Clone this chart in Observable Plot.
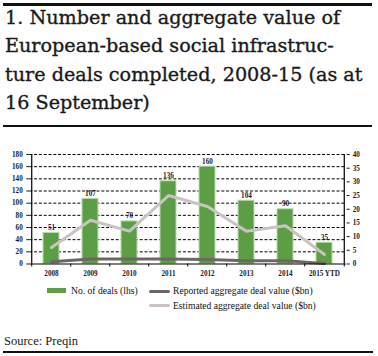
<!DOCTYPE html>
<html><head><meta charset="utf-8">
<script src="https://cdn.jsdelivr.net/npm/d3@7"></script>
<script src="https://cdn.jsdelivr.net/npm/@observablehq/plot@0.6"></script>
<style>
body{margin:0;background:#fff;}
#wrap{position:relative;width:378px;height:356px;overflow:hidden;background:#fff;font-family:"Liberation Serif",serif;color:#111;}
.abs{position:absolute;}
#title{left:5px;top:4px;font-family:"DejaVu Serif",serif;font-size:19.2px;line-height:28.4px;white-space:nowrap;color:#1a1a1a;-webkit-text-stroke:0.35px #1a1a1a;}
.leg{font-size:9.6px;white-space:nowrap;color:#111;}
#chart{left:0;top:130px;}
</style></head>
<body><div id="wrap">
<div class="abs" style="left:3px;top:3px;width:369px;height:3px;background:#111"></div>
<div id="title" class="abs">1. Number and aggregate value of<br>European-based social infrastruc-<br>ture deals completed, 2008-15 (as at<br>16 September)</div>
<div class="abs" style="left:3px;top:125px;width:369px;height:1.5px;background:#111"></div>
<div id="chart" class="abs"></div>
<div class="abs" style="left:47px;top:288px;width:19px;height:4.5px;background:#5b9e46"></div>
<div class="abs leg" style="left:71px;top:285px;">No. of deals (lhs)</div>
<div class="abs" style="left:149px;top:289.5px;width:21px;height:3px;background:#6e6665;border-radius:1.5px"></div>
<div class="abs leg" style="left:173px;top:285px;">Reported aggregate deal value ($bn)</div>
<div class="abs" style="left:149px;top:304px;width:21px;height:3px;background:#cac3c2;border-radius:1.5px"></div>
<div class="abs leg" style="left:173px;top:299.5px;">Estimated aggregate deal value ($bn)</div>
<div class="abs" style="left:4px;top:334px;font-size:12.5px;color:#1a1a1a;">Source: Preqin</div>
<div class="abs" style="left:3px;top:351px;width:370px;height:1.5px;background:#111"></div>
</div>
<script>
const years = ["2008","2009","2010","2011","2012","2013","2014","2015 YTD"];
const deals = [51,107,70,136,160,104,90,35];
const estimated = [6,16,12,25,21,12,14,3.5];
const reported = [0.8,1.8,1.8,1.8,1.6,1.2,1.2,0.2];
const leftTicks = [0,20,40,60,80,100,120,140,160,180];
const rightTicks = [0,5,10,15,20,25,30,35,40];

const leftMax = 180, rightMax = 40;
const k = leftMax / rightMax;
const data = years.map((year, i) => ({year, deals: deals[i], est: estimated[i], rep: reported[i]}));

const W = 378, mL = 29.3, mR = 32.3;
const step = (W - mL - mR) / years.length;

const chart = Plot.plot({
  width: W, height: 152,
  marginTop: 24, marginBottom: 18.5, marginLeft: mL, marginRight: mR,
  style: {fontFamily: "Liberation Serif, serif", fontSize: "7.2px", fontWeight: "bold", color: "#1a1a2a", background: "transparent"},
  x: {domain: years, paddingInner: 0.6, paddingOuter: 0.3, axis: null, label: null},
  y: {domain: [0, leftMax], axis: null, label: null},
  marks: [
    Plot.ruleY(leftTicks.filter(d => d > 0), {stroke: "#000", strokeWidth: 1, strokeDasharray: "3,1.8"}),
    Plot.barY(data, {x: "year", y: "deals", fill: "#5b9e46", stroke: "#b9dbab", strokeWidth: 1}),
    Plot.lineY(data, {x: "year", y: d => d.est * k, stroke: "#cac3c2", strokeWidth: 3}),
    Plot.lineY(data, {x: "year", y: d => d.rep * k, stroke: "#6e6665", strokeWidth: 3}),
    Plot.text(data, {x: "year", y: "deals", text: d => String(d.deals), lineAnchor: "bottom", dy: -3, fill: "#1a1a2a"}),
    Plot.ruleY([0], {stroke: "#000", strokeWidth: 1.2}),
    Plot.ruleX(years.slice(0,1), {x: d => d, dx: -step/2, y1: 0, y2: leftMax, stroke: "#000", strokeWidth: 1.2}),
    Plot.ruleX(years.slice(-1), {x: d => d, dx: step/2, y1: 0, y2: leftMax, stroke: "#000", strokeWidth: 1.2}),
    Plot.ruleX(years, {x: d => d, dx: -step/2, y1: 0, y2: 0, insetBottom: -3, stroke: "#000"}),
    Plot.ruleX(years.slice(-1), {x: d => d, dx: step/2, y1: 0, y2: 0, insetBottom: -3, stroke: "#000"}),
    Plot.axisY(leftTicks, {anchor: "left", tickSize: 3, tickPadding: 4, label: null}),
    Plot.axisY(rightTicks.map(v => v * k), {anchor: "right", tickSize: 3, tickPadding: 3.5, label: null, tickFormat: d => String(Math.round(d / k))}),
    Plot.axisX({tickSize: 0, tickPadding: 7, label: null})
  ]
});
document.getElementById("chart").appendChild(chart);
</script>
</body></html>
